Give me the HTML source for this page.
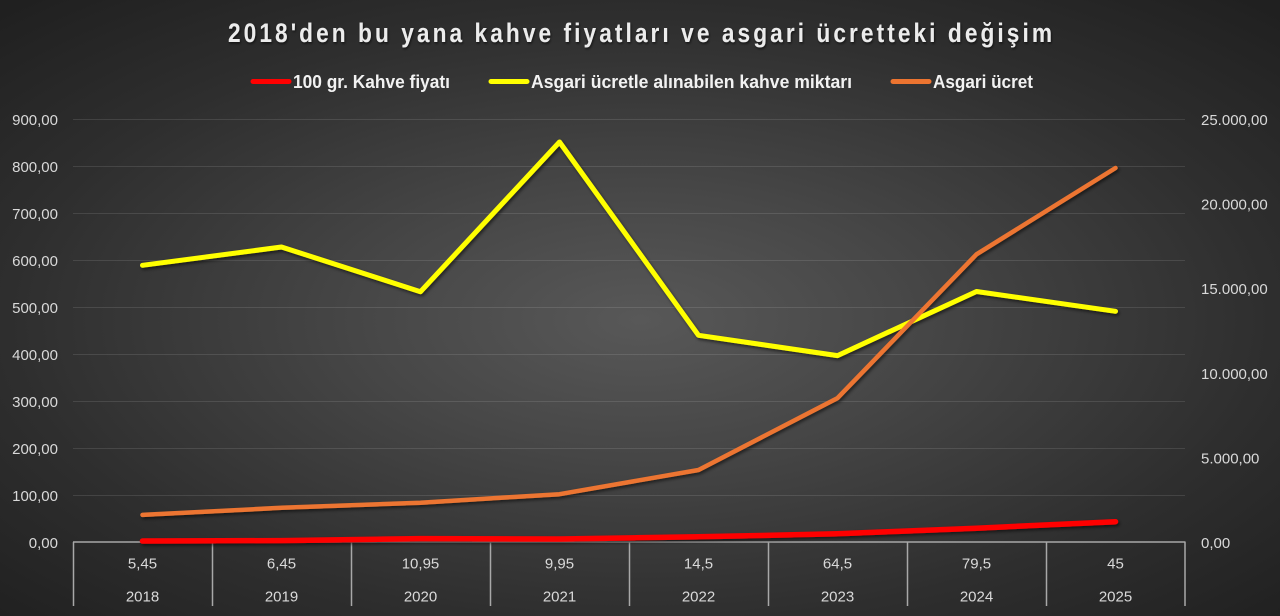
<!DOCTYPE html>
<html>
<head>
<meta charset="utf-8">
<style>
  html, body { margin:0; padding:0; background:#2a2a2a; }
  body { width:1280px; height:616px; overflow:hidden; }
  svg { display:block; }
  .ax { font-family:"Liberation Sans", sans-serif; font-size:15px; fill:#d9d9d9; }
  .lg { font-family:"Liberation Sans Narrow","Liberation Sans", sans-serif; font-weight:bold; font-size:18px; fill:#f2f2f2; }
  .tt { font-family:"Liberation Sans Narrow","Liberation Sans", sans-serif; font-weight:bold; font-size:27px; fill:#ececec; }
</style>
</head>
<body>
<svg width="1280" height="616" viewBox="0 0 1280 616" xmlns="http://www.w3.org/2000/svg">
  <defs>
    <radialGradient id="bg" cx="640" cy="320" r="905" gradientUnits="userSpaceOnUse" gradientTransform="translate(640 320) scale(1 0.48) translate(-640 -320)">
      <stop offset="0" stop-color="#585858"/>
      <stop offset="0.3" stop-color="#474747"/>
      <stop offset="0.7" stop-color="#2e2e2e"/>
      <stop offset="1" stop-color="#202020"/>
    </radialGradient>
    <filter id="sh" x="-5%" y="-20%" width="110%" height="140%">
      <feDropShadow dx="1.5" dy="2" stdDeviation="1.6" flood-color="#000" flood-opacity="0.55"/>
    </filter>
    <filter id="tsh" x="-5%" y="-30%" width="110%" height="160%">
      <feDropShadow dx="1" dy="1.5" stdDeviation="1.2" flood-color="#000" flood-opacity="0.6"/>
    </filter>
  </defs>

  <rect x="0" y="0" width="1280" height="616" fill="url(#bg)"/>

  <!-- Title -->
  <g transform="translate(640 0) scale(0.84 1)" filter="url(#tsh)">
    <text class="tt" x="0" y="42" text-anchor="middle" textLength="981" lengthAdjust="spacing">2018'den bu yana kahve fiyatları ve asgari ücretteki değişim</text>
  </g>

  <!-- Legend -->
  <line x1="253" y1="81.5" x2="289" y2="81.5" stroke="#ff0000" stroke-width="5" stroke-linecap="round"/>
  <text class="lg" x="293" y="88" textLength="157" lengthAdjust="spacingAndGlyphs">100 gr. Kahve fiyatı</text>
  <line x1="491" y1="81.5" x2="527" y2="81.5" stroke="#ffff00" stroke-width="5" stroke-linecap="round"/>
  <text class="lg" x="531" y="88" textLength="321" lengthAdjust="spacingAndGlyphs">Asgari ücretle alınabilen kahve miktarı</text>
  <line x1="893" y1="81.5" x2="929" y2="81.5" stroke="#ec7430" stroke-width="5" stroke-linecap="round"/>
  <text class="lg" x="933" y="88" textLength="100" lengthAdjust="spacingAndGlyphs">Asgari ücret</text>

  <!-- Gridlines -->
  <g stroke="#ffffff" stroke-opacity="0.11" stroke-width="1">
    <line x1="73" y1="119.5" x2="1185" y2="119.5"/>
    <line x1="73" y1="166.5" x2="1185" y2="166.5"/>
    <line x1="73" y1="213.5" x2="1185" y2="213.5"/>
    <line x1="73" y1="260.5" x2="1185" y2="260.5"/>
    <line x1="73" y1="307.5" x2="1185" y2="307.5"/>
    <line x1="73" y1="354.5" x2="1185" y2="354.5"/>
    <line x1="73" y1="401.5" x2="1185" y2="401.5"/>
    <line x1="73" y1="448.5" x2="1185" y2="448.5"/>
    <line x1="73" y1="495.5" x2="1185" y2="495.5"/>
  </g>

  <!-- Left axis labels -->
  <g class="ax" text-anchor="end">
    <text x="58" y="125">900,00</text>
    <text x="58" y="172">800,00</text>
    <text x="58" y="219">700,00</text>
    <text x="58" y="266">600,00</text>
    <text x="58" y="313">500,00</text>
    <text x="58" y="360">400,00</text>
    <text x="58" y="407">300,00</text>
    <text x="58" y="454">200,00</text>
    <text x="58" y="501">100,00</text>
    <text x="58" y="548">0,00</text>
  </g>

  <!-- Right axis labels -->
  <g class="ax" text-anchor="start">
    <text x="1201" y="125">25.000,00</text>
    <text x="1201" y="209.6">20.000,00</text>
    <text x="1201" y="294.2">15.000,00</text>
    <text x="1201" y="378.8">10.000,00</text>
    <text x="1201" y="463.4">5.000,00</text>
    <text x="1201" y="548">0,00</text>
  </g>

  <!-- X axis -->
  <g stroke="#a8a8a8" stroke-width="1.5" fill="none">
    <line x1="73" y1="542" x2="1185.5" y2="542"/>
    <line x1="73.5" y1="542" x2="73.5" y2="606"/>
    <line x1="212.5" y1="542" x2="212.5" y2="606"/>
    <line x1="351.5" y1="542" x2="351.5" y2="606"/>
    <line x1="490.5" y1="542" x2="490.5" y2="606"/>
    <line x1="629.5" y1="542" x2="629.5" y2="606"/>
    <line x1="768.5" y1="542" x2="768.5" y2="606"/>
    <line x1="907.5" y1="542" x2="907.5" y2="606"/>
    <line x1="1046.5" y1="542" x2="1046.5" y2="606"/>
    <line x1="1185" y1="542" x2="1185" y2="606"/>
  </g>

  <g class="ax" text-anchor="middle">
    <text x="142.5" y="568.5">5,45</text>
    <text x="281.5" y="568.5">6,45</text>
    <text x="420.5" y="568.5">10,95</text>
    <text x="559.5" y="568.5">9,95</text>
    <text x="698.5" y="568.5">14,5</text>
    <text x="837.5" y="568.5">64,5</text>
    <text x="976.5" y="568.5">79,5</text>
    <text x="1115.5" y="568.5">45</text>
    <text x="142.5" y="601.5">2018</text>
    <text x="281.5" y="601.5">2019</text>
    <text x="420.5" y="601.5">2020</text>
    <text x="559.5" y="601.5">2021</text>
    <text x="698.5" y="601.5">2022</text>
    <text x="837.5" y="601.5">2023</text>
    <text x="976.5" y="601.5">2024</text>
    <text x="1115.5" y="601.5">2025</text>
  </g>

  <!-- Series -->
  <g fill="none" stroke-linecap="round" stroke-linejoin="round" filter="url(#sh)">
    <polyline stroke="#ff0000" stroke-width="5.5"
      points="142.5,541.0 281.5,540.6 420.5,538.6 559.5,539.0 698.5,536.8 837.5,533.8 976.5,528.2 1115.5,521.7"/>
    <polyline stroke="#ffff00" stroke-width="5"
      points="142.5,265.3 281.5,247.0 420.5,291.7 559.5,142.0 698.5,335.3 837.5,355.6 976.5,291.5 1115.5,311.3"/>
    <polyline stroke="#ec7430" stroke-width="4.5"
      points="142.5,514.9 281.5,507.8 420.5,502.7 559.5,494.2 698.5,470.0 837.5,398.1 976.5,254.3 1115.5,168.0"/>
  </g>
</svg>
</body>
</html>
